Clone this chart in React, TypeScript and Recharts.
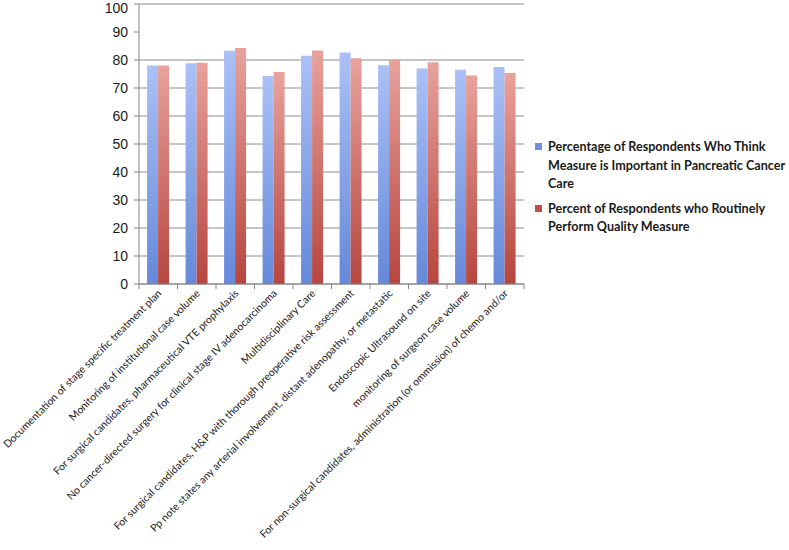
import React from 'react';
import { BarChart, Bar, XAxis, YAxis, CartesianGrid } from 'recharts';

const measures = [
  'Documentation of stage specific treatment plan',
  'Monitoring of institutional case volume',
  'For surgical candidates, pharmaceutical VTE prophylaxis',
  'No cancer-directed surgery for clinical stage IV adenocarcinoma',
  'Multidisciplinary Care',
  'For surgical candidates, H&P with thorough preoperative risk assessment',
  'Pp note states any arterial involvement, distant adenopathy, or metastatic',
  'Endoscopic Ultrasound on site',
  'monitoring of surgeon case volume',
  'For non-surgical candidates, administration (or ommission) of chemo and/or',
];
const importantPct = [78.0, 78.8, 83.3, 74.3, 81.5, 82.7, 78.1, 77.0, 76.5, 77.5];
const performPct = [78.0, 79.0, 84.3, 75.7, 83.4, 80.6, 80.1, 79.2, 74.5, 75.4];
const yTicks = [0, 10, 20, 30, 40, 50, 60, 70, 80, 90, 100];

const seriesNames = {
  important: 'Percentage of Respondents Who Think Measure is Important in Pancreatic Cancer Care',
  perform: 'Percent of Respondents who Routinely Perform Quality Measure',
};

const data = measures.map((m, i) => ({ measure: m, important: importantPct[i], perform: performPct[i] }));

const PLOT_LEFT = 139;
const PLOT_RIGHT = 524;
const HALF_BAND = (PLOT_RIGHT - PLOT_LEFT) / measures.length / 2;

function MeasureTick(props: any) {
  const { x, y, payload, index } = props;
  return (
    <g transform={`translate(${x},${y})`}>
      <line x1={-HALF_BAND} y1={0} x2={-HALF_BAND} y2={5} stroke="#868686" />
      {index === measures.length - 1 && (
        <line x1={HALF_BAND} y1={0} x2={HALF_BAND} y2={5} stroke="#868686" />
      )}
      <text
        x={0}
        y={0}
        transform="translate(4,10) rotate(-45)"
        textAnchor="end"
        fontSize={10.5}
        fontFamily="Lato, 'Open Sans', sans-serif"
        fill="#1a1a1a"
      >
        {payload.value}
      </text>
    </g>
  );
}

function LegendBox() {
  const items = [
    { name: seriesNames.important, color: '#6d8fdc' },
    { name: seriesNames.perform, color: '#c0504d' },
  ];
  return (
    <div style={{ position: 'absolute', left: 535, top: 138, width: 254, fontFamily: "Lato, 'Open Sans', sans-serif", fontWeight: 700, fontSize: 12.6, color: '#1a1a1a', lineHeight: '18.5px' }}>
      {items.map((it) => (
        <div key={it.name} style={{ display: 'flex', alignItems: 'flex-start', marginBottom: 6 }}>
          <span style={{ display: 'inline-block', width: 7, height: 7, background: it.color, marginTop: 5, marginRight: 6, flexShrink: 0 }} />
          <span style={{ width: 240 }}>{it.name}</span>
        </div>
      ))}
    </div>
  );
}

export default function App() {
  return (
    <div style={{ position: 'absolute', left: 0, top: 0, width: 789, height: 550, background: '#fff' }}>
      <BarChart
        width={789}
        height={550}
        data={data}
        margin={{ top: 4, right: 789 - PLOT_RIGHT, left: 0, bottom: 0 }}
        barCategoryGap="21%"
        barGap={0}
      >
        <defs>
          <linearGradient id="gradBlue" x1="0" y1="0" x2="0" y2="1">
            <stop offset="0%" stopColor="#abc0f6" />
            <stop offset="100%" stopColor="#6589d9" />
          </linearGradient>
          <linearGradient id="gradRed" x1="0" y1="0" x2="0" y2="1">
            <stop offset="0%" stopColor="#e8a29c" />
            <stop offset="100%" stopColor="#b6453f" />
          </linearGradient>
        </defs>
        <CartesianGrid vertical={false} stroke="#8c8c8c" />
        <XAxis
          dataKey="measure"
          interval={0}
          height={266}
          tickSize={0}
          tickMargin={0}
          tick={<MeasureTick />}
          axisLine={{ stroke: '#868686' }}
        />
        <YAxis
          type="number"
          domain={[0, 100]}
          ticks={yTicks}
          width={PLOT_LEFT}
          tickSize={5}
          tickMargin={6}
          axisLine={{ stroke: '#868686' }}
          tickLine={{ stroke: '#868686' }}
          tick={{ fontSize: 14, fill: '#1a1a1a', fontFamily: "'Liberation Sans', Arial, sans-serif" }}
        />
        <Bar dataKey="important" name={seriesNames.important} fill="url(#gradBlue)" isAnimationActive={false} />
        <Bar dataKey="perform" name={seriesNames.perform} fill="url(#gradRed)" isAnimationActive={false} />
      </BarChart>
      <LegendBox />
    </div>
  );
}
